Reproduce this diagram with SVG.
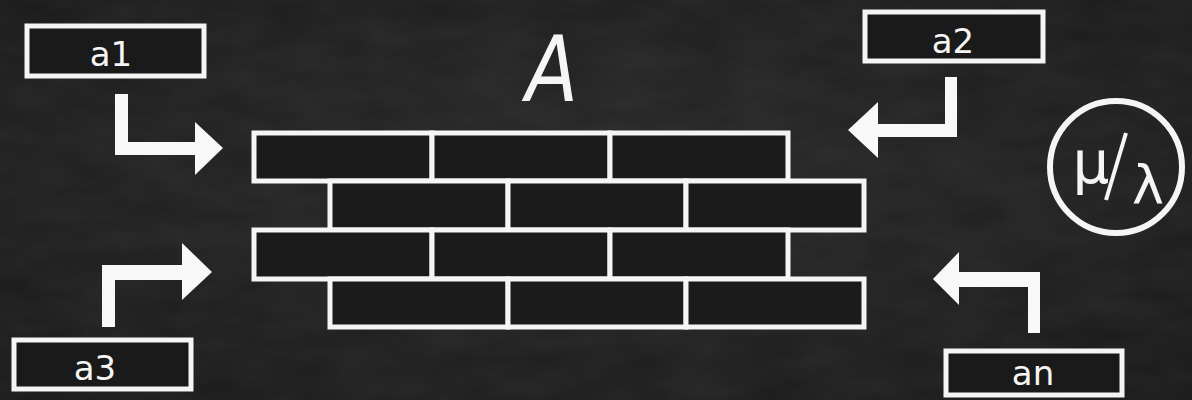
<svg xmlns="http://www.w3.org/2000/svg" width="1192" height="400" viewBox="0 0 1192 400">
  <defs>
    <radialGradient id="bg" cx="50%" cy="45%" r="75%">
      <stop offset="0" stop-color="#272727"/>
      <stop offset="1" stop-color="#181818"/>
    </radialGradient>
    <filter id="noise" x="0" y="0" width="100%" height="100%">
      <feTurbulence type="fractalNoise" baseFrequency="0.015 0.04" numOctaves="3" seed="4" result="t"/>
      <feColorMatrix type="matrix" values="0 0 0 0 1  0 0 0 0 1  0 0 0 0 1  0 0 0 0.06 0"/>
    </filter>
    <style>
      .box { fill: #1a1a1a; stroke: #f5f5f5; stroke-width: 5; }
      .brick { fill: #1b1b1b; stroke: #f5f5f5; stroke-width: 5; }
      .lbl { fill: #f5f5f5; font-family: "DejaVu Sans", "Liberation Sans", sans-serif; font-size: 34px; text-anchor: middle; }
      .arr { fill: #f8f8f8; stroke: none; }
    </style>
  </defs>
  <rect width="1192" height="400" fill="url(#bg)"/>
  <rect width="1192" height="400" filter="url(#noise)"/>

  <g id="title">
    <text x="0" y="0" transform="translate(552,101) scale(0.85,1)" fill="#f5f5f5" font-family="DejaVu Sans, sans-serif" font-size="90" font-style="italic" text-anchor="middle">A</text>
  </g>

  <g id="wall">
    <rect class="brick" x="254" y="133" width="178" height="48"/>
    <rect class="brick" x="432" y="133" width="178" height="48"/>
    <rect class="brick" x="610" y="133" width="178" height="48"/>
    <rect class="brick" x="330" y="181" width="178" height="49"/>
    <rect class="brick" x="508" y="181" width="178" height="49"/>
    <rect class="brick" x="686" y="181" width="178" height="49"/>
    <rect class="brick" x="254" y="230" width="178" height="49"/>
    <rect class="brick" x="432" y="230" width="178" height="49"/>
    <rect class="brick" x="610" y="230" width="178" height="49"/>
    <rect class="brick" x="330" y="279" width="178" height="48"/>
    <rect class="brick" x="508" y="279" width="178" height="48"/>
    <rect class="brick" x="686" y="279" width="178" height="48"/>
  </g>

  <g id="a1">
    <rect class="box" x="27" y="26" width="177" height="50"/>
    <text class="lbl" x="111" y="66">a1</text>
  </g>
  <g id="a2">
    <rect class="box" x="865" y="12" width="178" height="49"/>
    <text class="lbl" x="953" y="53">a2</text>
  </g>
  <g id="a3">
    <rect class="box" x="14" y="340" width="177" height="49"/>
    <text class="lbl" x="95" y="380">a3</text>
  </g>
  <g id="an">
    <rect class="box" x="946" y="351" width="176" height="44"/>
    <text class="lbl" x="1033" y="385">an</text>
  </g>

  <g id="mu-lambda">
    <circle cx="1116" cy="167" r="66" fill="none" stroke="#f5f5f5" stroke-width="6"/>
    <text x="1091" y="183" fill="#f5f5f5" font-family="DejaVu Sans, sans-serif" font-size="58" text-anchor="middle">μ</text>
    <line x1="1126" y1="133" x2="1106" y2="200" stroke="#f5f5f5" stroke-width="4"/>
    <text x="1148" y="204" fill="#f5f5f5" font-family="DejaVu Sans, sans-serif" font-size="54" text-anchor="middle">λ</text>
  </g>

  <g id="connectors">
    <polygon class="arr" points="115,94 128,94 128,142 195,142 195,122 223,148 195,175 195,155 115,155"/>
    <polygon class="arr" points="957,77 945,77 945,124 878,124 878,102 848,130 878,158 878,137 957,137"/>
    <polygon class="arr" points="102,327 115,327 115,280 182,280 182,300 212,272 182,243 182,265 102,265"/>
    <polygon class="arr" points="1040,333 1028,333 1028,287 959,287 959,305 933,279 959,252 959,272 1040,272"/>
  </g>
</svg>
